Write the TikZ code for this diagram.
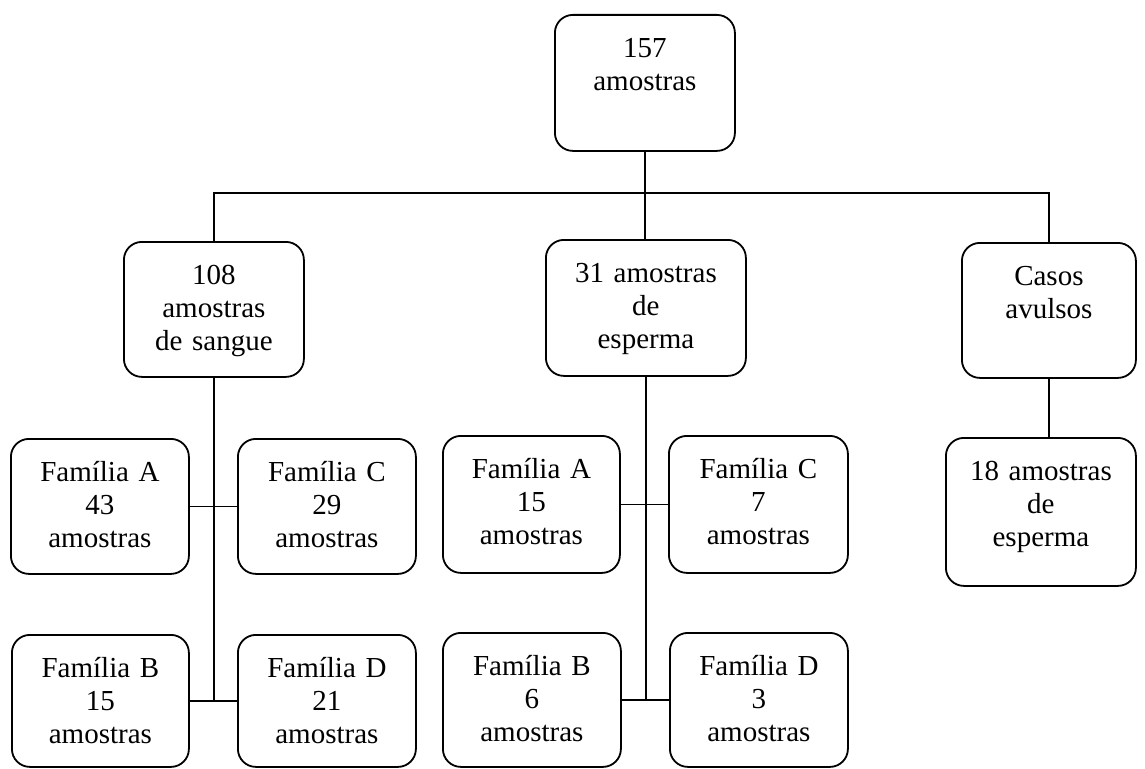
\documentclass[tikz,border=0pt]{standalone}
\usepackage{fontspec}
\setmainfont{Liberation Serif}
\usepackage{tikz}
\usetikzlibrary{positioning}

\tikzset{
	fbox/.style 2 args={draw, line width=1.8pt, rounded corners=18pt, anchor=north west,
		inner sep=0pt, align=center, text width=#1, text height=43pt, text depth=#2},
	wire/.style={line width=1.8pt}
}

\begin{document}
\begin{tikzpicture}[x=1pt, y=-1pt, font=\fontsize{29}{33}\selectfont]
				\useasboundingbox (0,0) rectangle (1145,768);
				% Boxes:
				\node[fbox={180pt}{93pt}] (N157) at (554,14) {157\\amostras};
				\node[fbox={180pt}{92pt}] (Sangue) at (123,241) {108\\amostras\\de sangue};
				\node[fbox={200pt}{93pt}] (Esperma) at (545,239) {31 amostras\\de\\esperma};
				\node[fbox={174pt}{92pt}] (Avulsos) at (961,242) {Casos\\avulsos};
				\node[fbox={178pt}{92pt}] (SA) at (10,438) {Família A\\43\\amostras};
				\node[fbox={178pt}{92pt}] (SC) at (237,438) {Família C\\29\\amostras};
				\node[fbox={177pt}{89pt}] (SB) at (11,634) {Família B\\15\\amostras};
				\node[fbox={178pt}{89pt}] (SD) at (237,634) {Família D\\21\\amostras};
				\node[fbox={177pt}{94pt}] (EA) at (442,435) {Família A\\15\\amostras};
				\node[fbox={179pt}{94pt}] (EC) at (668,435) {Família C\\7\\amostras};
				\node[fbox={178pt}{91pt}] (EB) at (442,632) {Família B\\6\\amostras};
				\node[fbox={178pt}{91pt}] (ED) at (669,632) {Família D\\3\\amostras};
				\node[fbox={190pt}{105pt}] (N18) at (945,437) {18 amostras\\de\\esperma};
				% Wires:
				\coordinate (bus) at (644,193);
				\draw[wire] (N157.south) -- (N157.south |- Esperma.north);
				\draw[wire] (Sangue.north) |- (bus) -| (Avulsos.north);
				\draw[wire] (Sangue.south) -- (Sangue.south |- SB.east);
				\draw[wire] (SA.east) -- (SC.west);
				\draw[wire] (SB.east) -- (SD.west);
				\draw[wire] (Esperma.south) -- (Esperma.south |- EB.east);
				\draw[wire] (EA.east) -- (EC.west);
				\draw[wire] (EB.east) -- (ED.west);
				\draw[wire] (Avulsos.south) -- (Avulsos.south |- N18.north);
			\end{tikzpicture}
\end{document}
